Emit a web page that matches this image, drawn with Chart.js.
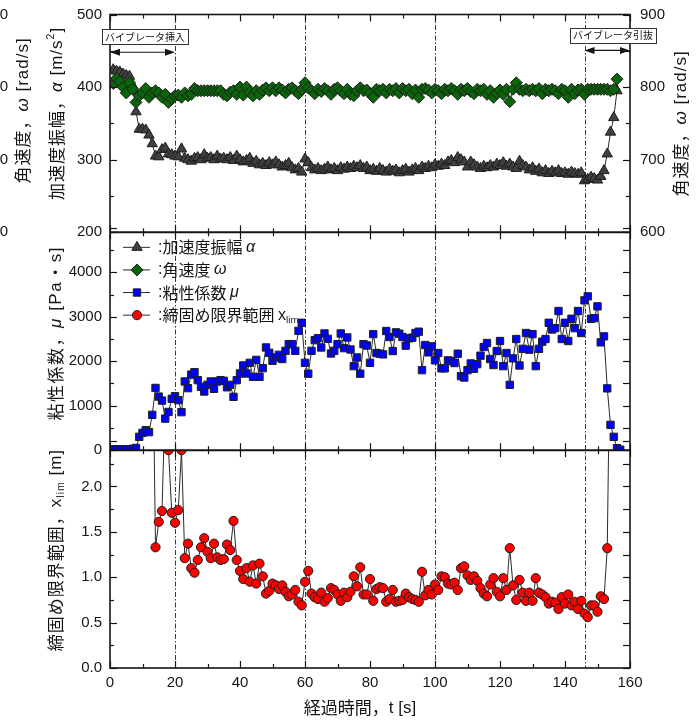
<!DOCTYPE html>
<html>
<head>
<meta charset="utf-8">
<script src="https://cdn.jsdelivr.net/npm/chart.js@4/dist/chart.umd.min.js"></script>
<style>
  html, body { margin: 0; padding: 0; background: #fff; }
  #wrap { position: relative; width: 698px; height: 725px; }
</style>
</head>
<body>
<div id="wrap"><canvas id="c" width="698" height="725"></canvas></div>
<script>
// ---- measured series (sampled every 1 s) ----
// acceleration amplitude α [m/s²], t = 1 … 156 s
const alphaStart = 1;
const accelAmplitude = [
  424,422,421,418,416,415,402,366,342,342,
  341,334,322,305,304,314,316,308,307,305,
  304,315,302,300,298,302,303,300,307,302,
  303,300,305,301,302,300,303,299,305,300,
  297,299,302,295,298,293,295,292,296,293,
  297,293,290,292,295,289,286,288,283,301,
  296,289,286,288,285,287,290,286,288,285,
  289,287,290,288,291,289,292,288,290,285,
  287,284,288,285,283,287,284,286,282,285,
  287,283,286,288,285,290,288,291,289,293,
  291,294,292,297,299,296,303,300,297,290,
  297,293,290,288,291,289,292,290,294,292,
  296,291,294,290,288,298,292,290,286,289,
  284,287,282,285,281,284,282,285,281,282,
  280,283,281,280,282,271,273,276,274,272,
  277,285,308,338,358,395
];
// angular velocity ω [rad/s], t = 1 … 156 s
const omegaStart = 1;
const angularVelocity = [
  805,812,808,800,792,806,797,779,788,792,
  798,786,792,795,792,786,790,779,784,788,
  789,786,792,788,790,798,795,795,795,795,
  795,795,795,795,790,788,793,795,790,800,
  789,800,793,788,795,790,796,799,795,799,
  795,799,796,792,797,799,795,791,797,806,
  799,795,791,797,794,798,795,790,797,799,
  795,791,797,790,788,795,799,795,796,791,
  786,797,795,797,792,797,795,798,792,798,
  795,797,791,796,786,797,798,796,792,797,
  795,791,797,795,798,795,790,797,795,798,
  794,791,797,795,797,790,795,786,792,796,
  790,797,780,797,806,797,795,797,795,797,
  795,798,791,797,795,797,795,791,797,795,
  786,797,791,796,797,790,797,797,797,797,
  797,797,797,795,797,811
];
// viscosity coefficient μ [Pa·s], t = 1 … 157 s
const muStart = 1;
const viscosity = [
  20,20,20,20,20,20,30,50,300,390,
  450,405,795,1400,1205,1115,710,860,1155,1215,
  1125,855,1545,1395,1700,1755,1575,1425,1320,1470,
  1545,1380,1545,1575,1560,1415,1470,1200,1575,1725,
  1905,1725,1965,1650,2030,1650,1845,2310,2190,2010,
  2085,2145,2050,2235,2385,2385,2235,2685,2865,1965,
  1720,2235,2475,2520,2310,2625,2505,2175,2235,2385,
  2625,2295,2535,2265,1890,2085,1720,2385,2355,1965,
  2610,2185,2170,2155,2680,2545,2230,2650,2620,2545,
  2350,2515,2530,2635,2665,1800,2365,2200,2335,2020,
  2185,1840,1840,2020,2005,1960,2170,1665,1635,1800,
  1950,1830,1935,2125,2320,2410,2050,1915,2230,2455,
  1890,2185,1470,2065,2500,1905,2280,2635,2260,2610,
  1890,2280,2440,2500,2865,2715,2745,3130,2500,2865,
  2455,2955,2745,3130,2635,3370,3460,2955,2970,3235,
  2425,2560,1390,570,300,45,10
];
// compaction limit range x_lim [m], t = 13 … 154 s (values above 2.4 run off the panel)
const xlimStart = 13;
const compactionLimit = [
  4.0,1.33,1.61,1.73,3.0,2.40,1.71,1.60,1.74,2.40,
  1.21,1.37,1.10,1.05,1.19,1.33,1.43,1.28,1.21,1.37,
  1.22,1.19,1.20,1.36,1.30,1.62,1.19,1.07,0.98,1.10,
  0.95,1.13,0.93,1.15,1.01,0.82,0.85,0.93,0.91,0.87,
  0.91,0.84,0.79,0.81,0.86,0.73,0.69,0.95,1.07,0.82,
  0.78,0.76,0.83,0.73,0.77,0.88,0.86,0.81,0.74,0.83,
  0.78,0.84,1.01,0.90,1.11,0.81,0.81,0.98,0.74,0.87,
  0.89,0.88,0.73,0.76,0.86,0.73,0.74,0.75,0.82,0.78,
  0.76,0.75,0.73,1.06,0.80,0.86,0.81,0.92,0.86,1.01,
  1.00,0.93,0.92,0.94,0.86,1.10,1.12,1.02,0.97,1.01,
  0.96,0.88,0.82,0.79,0.92,0.99,0.84,0.79,0.99,0.86,
  1.32,0.91,0.75,0.97,0.83,0.74,0.83,0.74,0.99,0.83,
  0.81,0.78,0.71,0.73,0.72,0.65,0.78,0.71,0.81,0.69,
  0.73,0.65,0.74,0.60,0.56,0.69,0.69,0.62,0.79,0.76,
  1.32,4.0
];

// vibrator events [s]
const eventTimes = [20, 60, 100, 146];
const insertSpan = [0, 20];
const withdrawSpan = [146, 160];

// axis ranges, labelled ticks and minor steps
const timeRange = [0, 160], timeTicks = [0, 20, 40, 60, 80, 100, 120, 140, 160], timeMinor = 10;
const alphaRange = [200, 500], alphaTicks = [200, 300, 400, 500], alphaMinor = 50;
const omegaRange = [600, 900], omegaTicks = [600, 700, 800, 900], omegaMinor = 50;
const muRange = [0, 4900], muTicks = [0, 1000, 2000, 3000, 4000], muMinor = 500;
const xlimRange = [0, 2.4], xlimTicks = [0, 0.5, 1.0, 1.5, 2.0], xlimMinor = 0.25;

function toPoints(start, values) {
  return values.map((v, i) => ({ x: start + i, y: v }));
}

const LATIN = '"Liberation Sans", "Noto Sans CJK JP", sans-serif';
const CJK = '"Noto Sans CJK JP", "Liberation Sans", sans-serif';
const INK = '#151515';

const seriesStyle = {
  alpha: { pointStyle: 'triangle', radius: 6, fill: '#404040', stroke: '#1e1e1e' },
  omega: { pointStyle: 'rectRot', radius: 6, fill: '#0a640a', stroke: '#1e1e1e' },
  mu:    { pointStyle: 'rect', radius: 5.2, fill: '#0000ff', stroke: '#1e1e1e' },
  xlim:  { pointStyle: 'circle', radius: 4.6, fill: '#ff0000', stroke: '#1e1e1e' }
};

function dataset(label, pts, axis, st) {
  return {
    label, data: pts, yAxisID: axis,
    borderColor: '#2a2a2a', borderWidth: 1,
    pointStyle: st.pointStyle, pointRadius: st.radius,
    pointBackgroundColor: st.fill, pointBorderColor: st.stroke, pointBorderWidth: 1,
    pointHoverRadius: st.radius, tension: 0, clip: 0
  };
}

// rich text helpers (italic, superscript, subscript)
function segFont(seg, size) {
  const s = (seg.sup || seg.sub) ? size * 0.62 : size;
  const fam = seg.cjk ? CJK : LATIN;
  return { font: (seg.it ? 'italic ' : '') + s.toFixed(1) + 'px ' + fam,
           dy: seg.sup ? -size * 0.36 : (seg.sub ? size * 0.3 : 0) };
}
function measureRich(ctx, segs, size) {
  let w = 0;
  for (const s of segs) { ctx.font = segFont(s, size).font; w += ctx.measureText(s.t).width; }
  return w;
}
function drawRich(ctx, segs, x, y, size, align) {
  const w = measureRich(ctx, segs, size);
  let cx = align === 'center' ? x - w / 2 : (align === 'right' ? x - w : x);
  ctx.textAlign = 'left';
  for (const s of segs) {
    const f = segFont(s, size);
    ctx.font = f.font;
    ctx.fillText(s.t, cx, y + f.dy);
    cx += ctx.measureText(s.t).width;
  }
}
function drawRotated(ctx, segs, cx, cy, size, spacing) {
  ctx.save();
  ctx.translate(cx, cy);
  ctx.rotate(-Math.PI / 2);
  ctx.textBaseline = 'middle';
  ctx.letterSpacing = spacing || '0px';
  drawRich(ctx, segs, 0, 0, size, 'center');
  ctx.restore();
}

const titleOmega = [{ t: '角速度，', cjk: true }, { t: 'ω', it: true }, { t: ' [rad/s]' }];
const titleAlpha = [{ t: '加速度振幅，', cjk: true }, { t: 'α', it: true }, { t: ' [m/s' }, { t: '2', sup: true }, { t: ']' }];
const titleMu = [{ t: '粘性係数，', cjk: true }, { t: 'μ', it: true }, { t: ' [Pa' }, { t: '・', cjk: true }, { t: 's]' }];
const titleXlim = [{ t: '締固め限界範囲，', cjk: true }, { t: 'x' }, { t: 'lim', sub: true }, { t: ' [m]' }];
const titleTime = [{ t: '経過時間，', cjk: true }, { t: 't [s]' }];

const legendRows = [
  { st: seriesStyle.alpha, segs: [{ t: ':' }, { t: '加速度振幅 ', cjk: true }, { t: 'α', it: true }] },
  { st: seriesStyle.omega, segs: [{ t: ':' }, { t: '角速度 ', cjk: true }, { t: 'ω', it: true }] },
  { st: seriesStyle.mu,    segs: [{ t: ':' }, { t: '粘性係数 ', cjk: true }, { t: 'μ', it: true }] },
  { st: seriesStyle.xlim,  segs: [{ t: ':' }, { t: '締固め限界範囲 ', cjk: true }, { t: 'x' }, { t: 'lim', sub: true }] }
];

function marker(ctx, st, x, y) {
  ctx.save();
  ctx.fillStyle = st.fill;
  ctx.strokeStyle = st.stroke;
  ctx.lineWidth = 1;
  Chart.helpers.drawPoint(ctx, { pointStyle: st.pointStyle, radius: st.radius, borderWidth: 1, rotation: 0 }, x, y);
  ctx.restore();
}

function arrow(ctx, x1, x2, y) {
  ctx.save();
  ctx.strokeStyle = INK; ctx.fillStyle = INK; ctx.lineWidth = 1.2;
  ctx.beginPath(); ctx.moveTo(x1 + 4, y); ctx.lineTo(x2 - 4, y); ctx.stroke();
  ctx.beginPath(); ctx.moveTo(x1, y); ctx.lineTo(x1 + 10, y - 3.5); ctx.lineTo(x1 + 10, y + 3.5); ctx.closePath(); ctx.fill();
  ctx.beginPath(); ctx.moveTo(x2, y); ctx.lineTo(x2 - 10, y - 3.5); ctx.lineTo(x2 - 10, y + 3.5); ctx.closePath(); ctx.fill();
  ctx.restore();
}
function labelBox(ctx, text, cx, cy) {
  ctx.save();
  ctx.font = '10px ' + CJK;
  const w = ctx.measureText(text).width + 6, h = 15;
  const x0 = Math.round(cx - w / 2) + 0.5, y0 = Math.round(cy - h / 2) + 0.5;
  ctx.fillStyle = '#fff'; ctx.strokeStyle = '#333'; ctx.lineWidth = 1;
  ctx.fillRect(x0, y0, Math.round(w), h);
  ctx.strokeRect(x0, y0, Math.round(w), h);
  ctx.fillStyle = INK; ctx.textAlign = 'center'; ctx.textBaseline = 'middle';
  ctx.fillText(text, cx, cy + 0.5);
  ctx.restore();
}

const panels = [
  { left: 'yA', right: 'yW', lRange: alphaRange, lMinor: alphaMinor, lStep: 100, rRange: omegaRange, rMinor: omegaMinor, rStep: 100 },
  { left: 'yMu', right: 'yMuR', lRange: muRange, lMinor: muMinor, lStep: 1000, rRange: muRange, rMinor: muMinor, rStep: 500 },
  { left: 'yX', right: 'yXR', lRange: xlimRange, lMinor: xlimMinor, lStep: 0.5, rRange: xlimRange, rMinor: xlimMinor, rStep: 0.25 }
];

const decorations = {
  id: 'decorations',
  beforeDatasetsDraw(chart) {
    const { ctx, chartArea: a, scales } = chart;
    ctx.save();
    ctx.strokeStyle = '#3a3a3a'; ctx.lineWidth = 1;
    ctx.setLineDash([5, 2, 1.5, 2]);
    eventTimes.forEach(t => {
      const px = Math.round(scales.x.getPixelForValue(t)) + 0.5;
      ctx.beginPath(); ctx.moveTo(px, a.top); ctx.lineTo(px, a.bottom); ctx.stroke();
    });
    ctx.restore();
  },
  afterDatasetsDraw(chart) {
    const { ctx, chartArea: a, scales } = chart;
    const x = scales.x;
    ctx.save();
    ctx.strokeStyle = INK;
    // inward tick marks on the panel sides
    ctx.lineWidth = 1.2;
    panels.forEach(p => {
      const ys = scales[p.left], yr = scales[p.right];
      const nL = Math.round((p.lRange[1] - p.lRange[0]) / p.lMinor);
      for (let i = 0; i <= nL; i++) {
        const v = p.lRange[0] + i * p.lMinor;
        const major = Math.abs(v / p.lStep - Math.round(v / p.lStep)) < 1e-6;
        const py = Math.round(ys.getPixelForValue(v)) + 0.5;
        ctx.beginPath(); ctx.moveTo(a.left, py); ctx.lineTo(a.left + (major ? 7 : 4), py); ctx.stroke();
      }
      const nR = Math.round((p.rRange[1] - p.rRange[0]) / p.rMinor);
      for (let i = 0; i <= nR; i++) {
        const v = p.rRange[0] + i * p.rMinor;
        const major = Math.abs(v / p.rStep - Math.round(v / p.rStep)) < 1e-6;
        const py = Math.round(yr.getPixelForValue(v)) + 0.5;
        ctx.beginPath(); ctx.moveTo(a.right, py); ctx.lineTo(a.right - (major ? 7 : 4), py); ctx.stroke();
      }
    });
    // time ticks: top edge, panel boundaries, bottom edge
    const edges = [
      { y: scales.yA.top, up: 0, down: 1 },
      { y: scales.yA.bottom, up: 1, down: 1 },
      { y: scales.yMu.bottom, up: 1, down: 1 },
      { y: scales.yX.bottom, up: 1, down: 0 }
    ];
    for (let t = timeRange[0]; t <= timeRange[1]; t += timeMinor) {
      const px = Math.round(x.getPixelForValue(t)) + 0.5;
      const len = t % 20 === 0 ? 7 : 4;
      edges.forEach(e => {
        ctx.beginPath();
        ctx.moveTo(px, e.y - e.up * len); ctx.lineTo(px, e.y + e.down * len); ctx.stroke();
      });
    }
    // frame and panel boundaries
    ctx.lineWidth = 1.6;
    ctx.strokeRect(a.left, a.top, a.right - a.left, a.bottom - a.top);
    ctx.lineWidth = 2;
    [scales.yA.bottom, scales.yMu.bottom].forEach(py => {
      ctx.beginPath(); ctx.moveTo(a.left, py); ctx.lineTo(a.right, py); ctx.stroke();
    });
    ctx.restore();

    // vibrator insert / withdraw annotations
    const yA = scales.yA;
    arrow(ctx, x.getPixelForValue(insertSpan[0]), x.getPixelForValue(insertSpan[1]), yA.getPixelForValue(448));
    arrow(ctx, x.getPixelForValue(withdrawSpan[0]), x.getPixelForValue(withdrawSpan[1]), yA.getPixelForValue(450.5));
    labelBox(ctx, 'バイブレータ挿入', x.getPixelForValue(10.8), yA.getPixelForValue(470));
    labelBox(ctx, 'バイブレータ引抜', x.getPixelForValue(154.8), yA.getPixelForValue(471.5));

    // legend inside the viscosity panel
    ctx.save();
    ctx.fillStyle = INK;
    ctx.textBaseline = 'middle';
    const lx0 = a.left + 13, lx1 = a.left + 40, mx = a.left + 27, tx = a.left + 48;
    legendRows.forEach((r, i) => {
      const ly = scales.yMu.top + 15 + i * 22.6;
      ctx.strokeStyle = '#2a2a2a'; ctx.lineWidth = 1;
      ctx.beginPath(); ctx.moveTo(lx0, ly); ctx.lineTo(lx1, ly); ctx.stroke();
      marker(ctx, r.st, mx, ly);
      ctx.fillStyle = INK;
      drawRich(ctx, r.segs, tx, ly, 16, 'left');
    });
    ctx.restore();
  },
  afterDraw(chart) {
    const { ctx, chartArea: a, scales } = chart;
    ctx.save();
    ctx.fillStyle = INK;
    const mid = s => (s.top + s.bottom) / 2;
    drawRotated(ctx, titleAlpha, 57, mid(scales.yA) - 10, 17, '1px');
    drawRotated(ctx, titleOmega, 23, mid(scales.yA) - 13, 17, '1px');
    drawRotated(ctx, titleMu, 56, mid(scales.yMu) - 8, 17, '1.5px');
    drawRotated(ctx, titleXlim, 56, mid(scales.yX) - 9, 17, '1px');
    drawRotated(ctx, titleOmega, 681, mid(scales.yW), 17, '1px');
    // outer angular-velocity scale, running off the left edge
    ctx.font = '15px ' + LATIN;
    ctx.textAlign = 'right'; ctx.textBaseline = 'middle';
    omegaTicks.forEach(v => ctx.fillText(String(v), 8, scales.yW.getPixelForValue(v)));
    drawRich(ctx, titleTime, (a.left + a.right) / 2 - 10, 708, 17, 'center');
    ctx.restore();
  }
};

const tickFont = { family: LATIN, size: 15 };
const yTickFont = { family: LATIN, size: 15, lineHeight: 0.6 };
function yScale(pos, order, range, ticks, showLabels, width, digits) {
  return {
    type: 'linear', position: pos, stack: pos === 'left' ? 'L' : 'R', stackWeight: 1, weight: order,
    min: range[0], max: range[1],
    afterBuildTicks: s => { s.ticks = ticks.map(v => ({ value: v })); },
    ticks: { display: showLabels, font: yTickFont, color: INK, padding: pos === 'left' ? 8 : 10,
             callback: v => Number(v).toFixed(digits) },
    grid: { display: false, drawTicks: false }, border: { display: false },
    afterFit: s => { s.width = width; }
  };
}

new Chart(document.getElementById('c'), {
  type: 'line',
  data: {
    datasets: [
      dataset('角速度 ω', toPoints(omegaStart, angularVelocity), 'yW', seriesStyle.omega),
      dataset('加速度振幅 α', toPoints(alphaStart, accelAmplitude), 'yA', seriesStyle.alpha),
      dataset('粘性係数 μ', toPoints(muStart, viscosity), 'yMu', seriesStyle.mu),
      dataset('締固め限界範囲 x_lim', toPoints(xlimStart, compactionLimit), 'yX', seriesStyle.xlim)
    ]
  },
  options: {
    responsive: false, animation: false,
    layout: { padding: { top: 10, left: 0, right: 0, bottom: 0 } },
    plugins: { legend: { display: false }, tooltip: { enabled: false } },
    scales: {
      x: {
        type: 'linear', position: 'bottom', min: timeRange[0], max: timeRange[1],
        afterBuildTicks: s => { s.ticks = timeTicks.map(v => ({ value: v })); },
        ticks: { font: tickFont, color: INK, padding: 6, maxRotation: 0 },
        grid: { display: false, drawTicks: false }, border: { display: false },
        afterFit: s => { s.height = 57; }
      },
      yA: yScale('left', 3, alphaRange, alphaTicks, true, 110, 0),
      yMu: yScale('left', 2, muRange, muTicks, true, 110, 0),
      yX: yScale('left', 1, xlimRange, xlimTicks, true, 110, 1),
      yW: yScale('right', 1, omegaRange, omegaTicks, true, 68, 0),
      yMuR: yScale('right', 2, muRange, muTicks, false, 68, 0),
      yXR: yScale('right', 3, xlimRange, xlimTicks, false, 68, 1)
    }
  },
  plugins: [decorations]
});
</script>
</body>
</html>
